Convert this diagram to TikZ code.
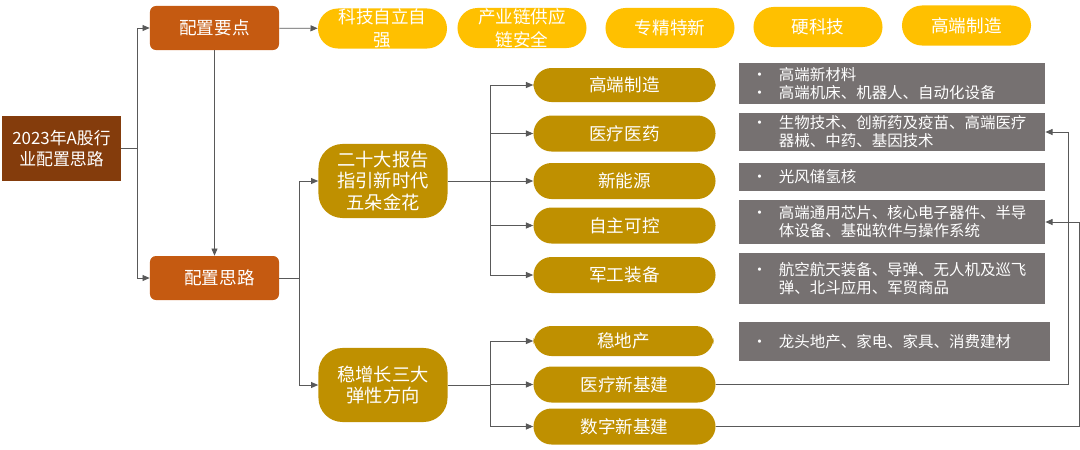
\documentclass[tikz,border=0pt]{standalone}
\usepackage{fontspec}
\usepackage{xcolor}
\usepackage{tikz}
\usetikzlibrary{arrows.meta}
\newfontfamily\cjk{Noto Sans CJK SC}
\definecolor{rootbrown}{HTML}{843C0C}
\definecolor{keyorange}{HTML}{C55A11}
\definecolor{pillyellow}{HTML}{FFC000}
\definecolor{pillgold}{HTML}{BF9000}
\definecolor{notegray}{HTML}{767171}
\definecolor{linegray}{HTML}{595959}
\newcommand{\noteitem}[1]{\makebox[0.675cm][l]{•}#1}
\newcommand{\notecont}[1]{\hspace*{0.675cm}#1}

\tikzset{
	rootbox/.style={fill=rootbrown, text=white, minimum width=2.975cm, minimum height=1.625cm, align=center, font=\cjk\fontsize{12}{14.5}\selectfont},
	keybox/.style={fill=keyorange, text=white, rounded corners=0.15cm, minimum width=3.225cm, minimum height=1.1cm, font=\cjk\fontsize{12.5}{15}\selectfont},
	toppill/.style={fill=pillyellow, text=white, rounded corners=0.5cm, minimum width=3.225cm, minimum height=1cm, inner ysep=0pt, align=center, font=\cjk\fontsize{12.5}{16}\selectfont},
	bigpill/.style={fill=pillgold, text=white, rounded corners=0.6cm, minimum width=3.225cm, minimum height=1.85cm, align=center, font=\cjk\fontsize{13}{15}\selectfont},
	subpill/.style={fill=pillgold, text=white, rounded corners=0.45cm, minimum width=4.55cm, minimum height=0.9cm, font=\cjk\fontsize{12.5}{15}\selectfont},
	notebox/.style={fill=notegray, text=white, minimum width=7.65cm, text width=7cm, inner xsep=0.325cm, inner ysep=0pt, align=left, font=\cjk\fontsize{11}{12.8}\selectfont},
	conn/.style={draw=linegray, line width=0.6pt},
}

\begin{document}
\begin{tikzpicture}[x=0.025cm, y=-0.025cm, >={Triangle[length=0.18cm,width=0.15cm]}]
	\useasboundingbox (0,0) rectangle (1080,449);

	% left column
	\node[rootbox] (root) at (61.5,148.5) {2023年A股行\\业配置思路};
	\node[keybox] (yd) at (214.5,28) {配置要点};
	\node[keybox] (sl) at (214.5,278) {\hspace*{0.25cm}配置思路};

	% top row
	\node[toppill] (t1) at (382.5,28.5) {科技自立自\\强};
	\node[toppill] (t2) at (522,28) {产业链供应\\链安全};
	\node[toppill] (t3) at (670,28) {专精特新};
	\node[toppill] (t4) at (818,27) {硬科技};
	\node[toppill] (t5) at (966.5,25.5) {高端制造};

	% middle column
	\node[bigpill] (ert) at (383,181) {二十大报告\\指引新时代\\五朵金花};
	\node[bigpill] (wzz) at (383,385) {稳增长三大\\弹性方向};

	% right pills
	\node[subpill, minimum height=0.85cm] (p1) at (624.5,85) {高端制造};
	\node[subpill] (p2) at (624.5,133.5) {医疗医药};
	\node[subpill] (p3) at (624.5,181) {新能源};
	\node[subpill] (p4) at (624.5,225.5) {自主可控};
	\node[subpill] (p5) at (624.5,275) {军工装备};
	\node[subpill, minimum height=0.75cm, minimum width=4.5cm] (q1) at (623.5,341) {稳地产};
	\node[subpill] (q2) at (624.5,384.5) {医疗新基建};
	\node[subpill] (q3) at (624.5,426.5) {数字新基建};

	% notes
	\node[notebox, minimum height=1.025cm] (g1) at (892,83.5) {\noteitem{高端新材料}\\\noteitem{高端机床、机器人、自动化设备}};
	\node[notebox, minimum height=0.95cm] (g2) at (892,132) {\noteitem{生物技术、创新药及疫苗、高端医疗}\\\notecont{器械、中药、基因技术}};
	\node[notebox, minimum height=0.7cm] (g3) at (892,177) {\noteitem{光风储氢核}};
	\node[notebox, minimum height=1.1cm] (g4) at (892,222) {\noteitem{高端通用芯片、核心电子器件、半导}\\\notecont{体设备、基础软件与操作系统}};
	\node[notebox, minimum height=1.275cm] (g5) at (892,278.5) {\noteitem{航空航天装备、导弹、无人机及巡飞}\\\notecont{弹、北斗应用、军贸商品}};
	\node[notebox, minimum height=0.975cm, minimum width=7.775cm, text width=7.125cm] (g6) at (894.5,341.5) {\noteitem{龙头地产、家电、家具、消费建材}};

	% connectors
	\coordinate (rj) at (137,148.5);
	\coordinate (sj) at (299,278);
	\coordinate (ej) at (490,181);
	\coordinate (wj) at (490,385);
	\coordinate (qa) at (1068,384.5);
	\coordinate (qb) at (1079,426.5);

	\draw[conn] (root) -- (rj);
	\draw[conn,->] (rj) |- (yd);
	\draw[conn,->] (rj) |- (sl);
	\draw[conn,->] (yd) -- (sl);
	\draw[conn,->] (yd) -- (t1);
	\draw[conn] (sl) -- (sj);
	\draw[conn,->] (sj) |- (ert);
	\draw[conn,->] (sj) |- (wzz);
	\draw[conn] (ert) -- (ej);
	\foreach \p in {p1,p2,p3,p4,p5}
		\draw[conn,->] (ej) |- (\p);
	\draw[conn] (wzz) -- (wj);
	\foreach \q in {q1,q2,q3}
		\draw[conn,->] (wj) |- (\q);
	\draw[conn,->] (q2) -- (qa) |- (g2);
	\draw[conn,->] (q3) -- (qb) |- (g4);
\end{tikzpicture}
\end{document}
